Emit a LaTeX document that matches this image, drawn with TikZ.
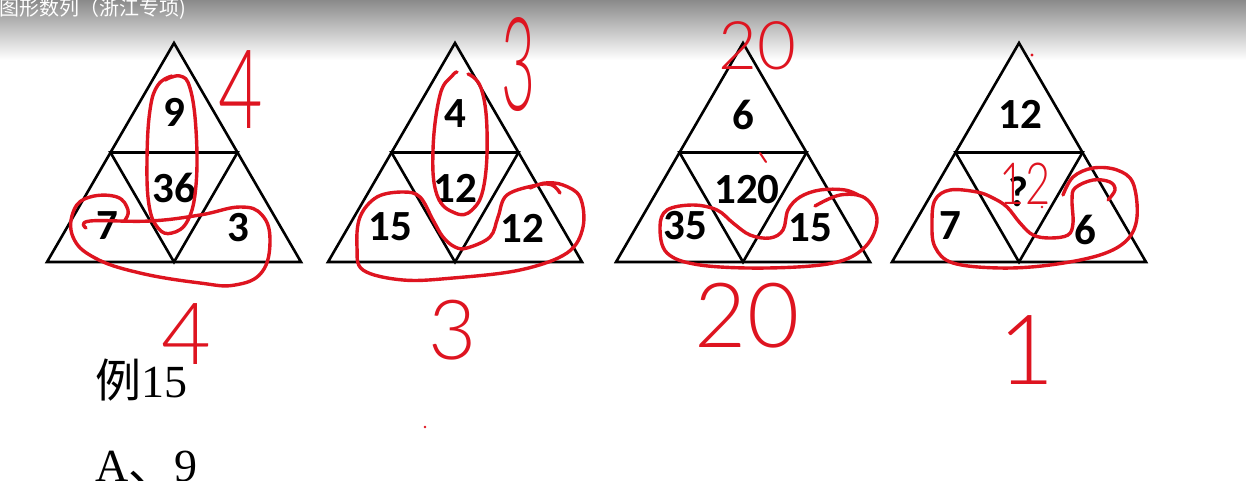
\documentclass[tikz,border=0pt]{standalone}
\usepackage{fontspec}
\setmainfont{Liberation Serif}
\newfontfamily\cellfont{Carlito}
\newfontfamily\cjk{Noto Sans CJK SC}
\newfontfamily\handfont{Lato Light}
\usetikzlibrary{positioning}
\definecolor{pen}{RGB}{222,20,32}
\definecolor{bartop}{RGB}{138,138,138}

\begin{document}
\begin{tikzpicture}[x=1pt, y=-1pt,
    tri/.style={draw=black, line width=2.6pt},
    cell/.style={inner sep=0pt, font=\cellfont\bfseries\fontsize{43}{43}\selectfont},
    ink/.style={draw=pen, line width=3.4pt, line cap=round, line join=round},
    hand/.style={inner sep=0pt, text=pen, font=\handfont\fontsize{#1}{#1}\selectfont},
    plain/.style={anchor=base west, inner sep=0pt, font=\fontsize{46}{46}\selectfont}]
    \useasboundingbox (0,0) rectangle (1246,480);
    \fill[white] (0,0) rectangle (1246,480);
    % grey title bar of the screenshot
    \shade[top color=bartop, bottom color=white] (0,0) rectangle (1246,60);
    \node[anchor=base west, inner sep=0pt, text=white, font=\cjk\fontsize{20}{20}\selectfont] (title) at (-1,15) {图形数列（浙江专项)};

    % the four triangles, each cut in four
    \foreach \ax in {174,455,743,1019} {
        \draw[tri] (\ax-127,262) -- (\ax,43) -- (\ax+127,262) -- cycle;
        \draw[tri] (\ax-63.5,152.5) -- (\ax+63.5,152.5) -- (\ax,262) -- cycle;
    }

    % numbers in the cells
    \node[cell] (a1) at (174,112) {9};
    \node[cell] (a2) at (174,188) {36};
    \node[cell] (a3) at (107,226) {7};
    \node[cell] (a4) at (238,228) {3};
    \node[cell] (b1) at (455,114) {4};
    \node[cell] (b2) at (455,188) {12};
    \node[cell] (b3) at (390,227) {15};
    \node[cell] (b4) at (522,228) {12};
    \node[cell] (c1) at (743,115) {6};
    \node[cell] (c2) at (747,190) {120};
    \node[cell] (c3) at (685,226) {35};
    \node[cell] (c4) at (810,228) {15};
    \node[cell] (d1) at (1020,114) {12};
    \node[cell] (d2) at (1018,192) {?};
    \node[cell] (d3) at (950,226) {7};
    \node[cell] (d4) at (1085,230) {6};

    % text under the pictures
    \node[plain] (ex) at (95,397) {{\cjk 例}15};
    \node[plain] (opt) at (95,481) {A{\cjk 、}9};

    % red pen: loops
    \draw[ink] plot[smooth, tension=0.7] coordinates {(165,80) (180,76) (190,88) (196,130) (196,185) (188,220) (172,233) (158,228) (149,205) (147,160) (150,110) (158,85) (172,76)};
    \draw[ink] plot[smooth, tension=0.7] coordinates {(125,220) (128,210) (117,197) (90,197) (74,210) (73,237) (95,258) (140,273) (200,283) (235,285) (262,272) (270,240) (262,215) (240,207) (200,215) (150,221) (90,221) (86,228)};
    \draw[ink] plot[smooth, tension=0.7] coordinates {(457,72) (452,76) (440,95) (433,150) (437,195) (455,213) (472,210) (484,185) (487,130) (481,88) (468,74)};
    \draw[ink] plot[smooth, tension=0.6] coordinates {(560,193) (552,185) (537,185) (507,195) (498,217) (490,237) (467,248) (455,247) (443,237) (433,220) (420,197) (403,192) (377,197) (360,217) (357,247) (363,270) (403,280) (453,278) (520,270) (567,253) (583,227) (580,197) (563,185) (545,183) (530,188)};
    \draw[ink] plot[smooth, tension=0.6] coordinates {(815,206) (840,195) (865,198) (877,220) (865,247) (833,263) (767,268) (700,265) (667,253) (660,227) (667,210) (693,205) (717,210) (733,223) (750,235) (770,238) (783,230) (788,210) (800,197) (820,190) (845,190) (860,196)};
    \draw[ink] plot[smooth, tension=0.6] coordinates {(1108,200) (1115,190) (1110,182) (1093,180) (1075,188) (1072,200) (1073,223) (1068,235) (1050,238) (1033,235) (1020,223) (1007,207) (993,198) (977,192) (950,190) (935,200) (932,223) (935,247) (953,263) (1000,268) (1050,265) (1100,255) (1127,240) (1137,217) (1133,183) (1117,170) (1093,168) (1073,177) (1063,195)};
    % small marks
    \draw[ink, line width=2pt] (760,153) -- (766,162);
    \fill[pen] (1032,55) circle (1.6);
    \fill[pen] (1042,207) circle (1.3);
    \fill[pen] (425,427) circle (1.3);

    % red pen: numbers
    \node[hand=110, xscale=0.7] (h1) at (241,90) {4};
    \node[hand=86] (h2) at (186,334) {4};
    \node[hand=130, xscale=0.45] (h3) at (518,65) {3};
    \node[hand=83] (h4) at (453,330) {3};
    \node[hand=67] (h5) at (757,46) {20};
    \node[hand=90] (h6) at (747,316) {20};
    \node[hand=58, xscale=0.75] (h7) at (1025,184) {12};
    \node[hand=97] (h8) at (1027,350) {1};
\end{tikzpicture}
\end{document}
